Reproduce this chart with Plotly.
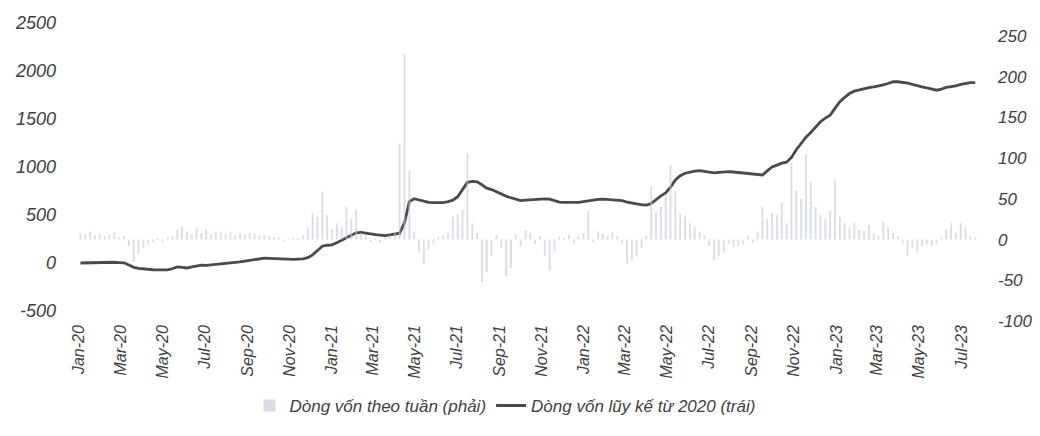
import plotly.graph_objects as go
import pandas as pd

# weekly dates (Fridays) from early Jan-2020 to late Jul-2023
weeks = pd.date_range("2020-01-03", periods=186, freq="7D")

# weekly flow, right axis
weekly_flow = [
    8, 6, 10, 5, 7, 4, 6, 9, 3, 5,
    -8, -28, -18, -10, -5, -3, 2, -2, 3, 4,
    12, 16, 10, 6, 14, 8, 12, 6, 10, 9,
    7, 10, 5, 8, 6, 8, 7, 5, 6, 4,
    3, 2, -2, 1, 3, 2, 5, 15, 33, 28,
    59, 30, 12, 20, 15, 40, 25, 37, 8, 5,
    -3, 2, -4, 3, 5, 8, 118, 228, 85, 10,
    -15, -30, -12, -5, 3, 5, 8, 28, 31, 37,
    106, 20, 8, -52, -40, -20, 5, -10, -45, -35,
    6, -8, 11, 8, -5, 4, -20, -38, -15, 3,
    2, 6, -5, 5, 8, 35, -3, 10, 7, 5,
    9, 4, -5, -30, -25, -20, -10, 5, 66, 33,
    40, 56, 91, 60, 32, 28, 20, 15, 10, 5,
    -8, -25, -20, -15, -5, -10, -8, -6, 5, -4,
    10, 40, 25, 33, 30, 45, 20, 95, 60, 50,
    105, 70, 40, 30, 25, 35, 73, 28, 20, 15,
    20, 12, 10, 18, 8, 5, 22, 15, 8, 4,
    -5, -20, -10, -15, -8, -6, -8, -5, 3, 12,
    20, 8, 20, 15, 5, 3,
]

# cumulative flow since 2020, left axis
cumulative_flow = [
    0, 2, -3, 4, 6, 3, 5, 8, 5, 2,
    -20, -45, -55, -62, -66, -70, -72, -75, -72, -60,
    -40, -45, -52, -40, -30, -22, -25, -20, -18, -15,
    -10, -5, 5, 12, 20, 28, 35, 45, 50, 48,
    45, 42, 44, 40, 38, 40, 42, 55, 85, 130,
    175, 185, 190, 210, 235, 265, 292, 315, 320, 310,
    305, 295, 290, 285, 292, 300, 310, 420, 640, 670,
    655, 640, 632, 628, 626, 630, 640, 655, 690, 760,
    840, 850, 845, 815, 780, 765, 745, 720, 695, 680,
    660, 650, 655, 660, 665, 670, 668, 665, 650, 635,
    632, 630, 628, 632, 640, 650, 658, 663, 665, 662,
    658, 655, 650, 635, 622, 615, 608, 604, 620, 660,
    700, 730, 790, 865, 910, 935, 950, 958, 962, 955,
    945, 940, 945, 950, 952, 948, 942, 938, 934, 930,
    925, 917, 960, 1000, 1020, 1040, 1050, 1100, 1180, 1250,
    1310, 1360, 1420, 1472, 1510, 1540, 1610, 1680, 1725, 1765,
    1790, 1805, 1820, 1828, 1835, 1844, 1855, 1870, 1889, 1888,
    1883, 1875, 1860, 1844, 1835, 1825, 1815, 1800, 1812, 1830,
    1838, 1845, 1860, 1872, 1878, 1879,
]

left_ticks = [-500, 0, 500, 1000, 1500, 2000, 2500]
right_ticks = [-100, -50, 0, 50, 100, 150, 200, 250]

FONT = "Liberation Sans Narrow, Arial Narrow, Liberation Sans, Arial"
TXT = "#404040"

fig = go.Figure()

fig.add_trace(go.Bar(
    x=weeks,
    y=weekly_flow,
    name="Dòng vốn theo tuần (phải)",
    yaxis="y2",
    marker=dict(color="rgba(190,198,214,0.6)", line_width=0),
))

fig.add_trace(go.Scatter(
    x=weeks,
    y=cumulative_flow,
    name="Dòng vốn lũy kế từ 2020 (trái)",
    mode="lines",
    line=dict(color="#4a4a4a", width=2.8),
))

fig.update_layout(
    width=1040,
    height=436,
    margin=dict(l=69, r=70, t=15, b=123, autoexpand=False),
    paper_bgcolor="white",
    plot_bgcolor="white",
    bargap=0.62,
    font=dict(family=FONT, size=18, color=TXT, style="italic"),
    showlegend=True,
    legend=dict(
        orientation="h",
        x=0.475, xanchor="center",
        y=-0.285, yanchor="middle",
        font=dict(family=FONT, size=17, color=TXT, style="italic"),
        itemwidth=30,
    ),
    xaxis=dict(
        type="date",
        range=["2019-12-29", "2023-07-25"],
        tick0="2020-01-01",
        dtick="M2",
        tickformat="%b-%y",
        tickangle=-90,
        showgrid=False,
        showline=False,
        zeroline=False,
        ticks="",
        automargin=False,
        tickfont=dict(family=FONT, size=16, color=TXT, style="italic"),
    ),
    yaxis=dict(
        range=[-604, 2500],
        tickvals=left_ticks,
        ticktext=[str(v) for v in left_ticks],
        showgrid=False,
        zeroline=False,
        showline=False,
        automargin=False,
        ticklabelstandoff=20,
    ),
    yaxis2=dict(
        range=[-100, 266],
        tickvals=right_ticks,
        ticktext=[str(v) for v in right_ticks],
        overlaying="y",
        side="right",
        showgrid=False,
        zeroline=False,
        showline=False,
        automargin=False,
        ticklabelstandoff=19,
        tickfont=dict(size=17),
    ),
)

fig.write_html("out.html")
